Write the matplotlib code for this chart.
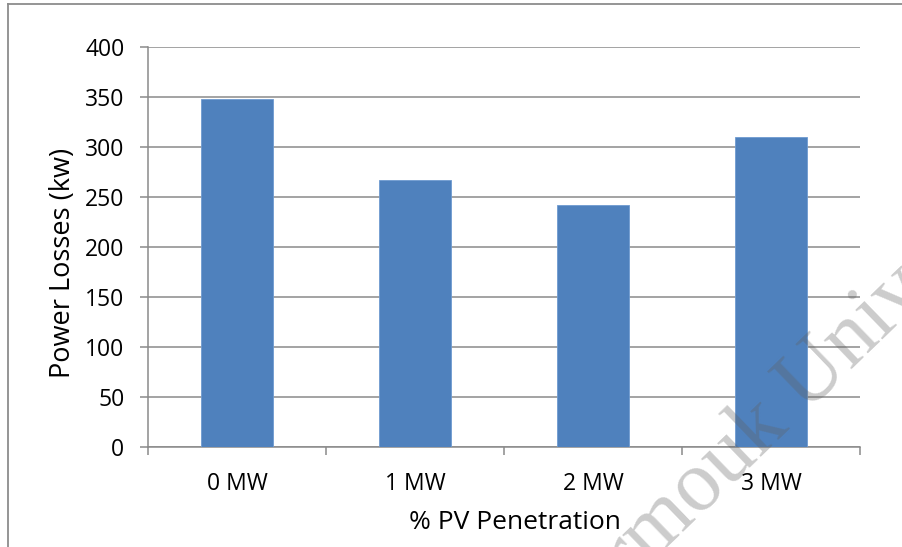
import matplotlib
matplotlib.use("Agg")
import matplotlib.pyplot as plt
from matplotlib.lines import Line2D
import numpy as np

# Power losses for each PV penetration level
categories = ["0 MW", "1 MW", "2 MW", "3 MW"]
losses_kw = [348, 267, 242, 310]
y_ticks = [0, 50, 100, 150, 200, 250, 300, 350, 400]

plt.rcParams["font.family"] = ["Open Sans", "DejaVu Sans"]

fig = plt.figure(figsize=(9.03, 5.47), dpi=100)
fig.patch.set_facecolor("white")

W, H = 903, 547
ax = fig.add_axes([148 / W, 1 - 447 / H, (860 - 148) / W, 400 / H])

grid_col = "#8a8a8a"
x = np.arange(len(categories))
ax.bar(x, losses_kw, width=0.4, color="#4F81BD", edgecolor="#6f9bd0",
       linewidth=0.6, zorder=3)

ax.set_xlim(-0.5, len(categories) - 0.5)
ax.set_ylim(0, 400)
ax.set_yticks(y_ticks)
ax.yaxis.grid(True, color=grid_col, linewidth=1.1, zorder=0)
ax.set_axisbelow(True)

for side in ("top", "right"):
    ax.spines[side].set_visible(False)
for side in ("left", "bottom"):
    ax.spines[side].set_color(grid_col)
    ax.spines[side].set_linewidth(1.1)

ax.tick_params(axis="y", direction="out", length=6, width=1.1, color=grid_col,
               labelsize=16.5, pad=11, labelcolor="black")
ax.set_xticks(x)
ax.set_xticklabels(categories)
ax.tick_params(axis="x", which="major", length=0, labelsize=16.5, pad=18)
ax.set_xticks(np.arange(-0.5, len(categories)), minor=True)
ax.tick_params(axis="x", which="minor", direction="out", length=6, width=1.1,
               color=grid_col)

ax.set_ylabel("Power Losses (kw)", fontsize=19.5)
ax.yaxis.set_label_coords(-0.1, 0.46)
ax.set_xlabel("% PV Penetration", fontsize=19)
ax.xaxis.set_label_coords(0.515, -0.158)

# Outer frame (top and left edges)
fig.add_artist(Line2D([8 / W, 8 / W], [0, 1 - 4 / H], transform=fig.transFigure,
                      color="#8c8c8c", linewidth=1.3))
fig.add_artist(Line2D([8 / W, 1], [1 - 4 / H, 1 - 4 / H], transform=fig.transFigure,
                      color="#8c8c8c", linewidth=1.3))

# Diagonal watermark
fig.text(563 / W, 1 - 648 / H, "Yarmouk University", rotation=44,
         rotation_mode="anchor", ha="left", va="baseline",
         family=["Liberation Serif", "DejaVu Serif"], fontsize=62,
         color="#606060", alpha=0.32, zorder=10)

fig.savefig("out.png", dpi=100, facecolor="white")
